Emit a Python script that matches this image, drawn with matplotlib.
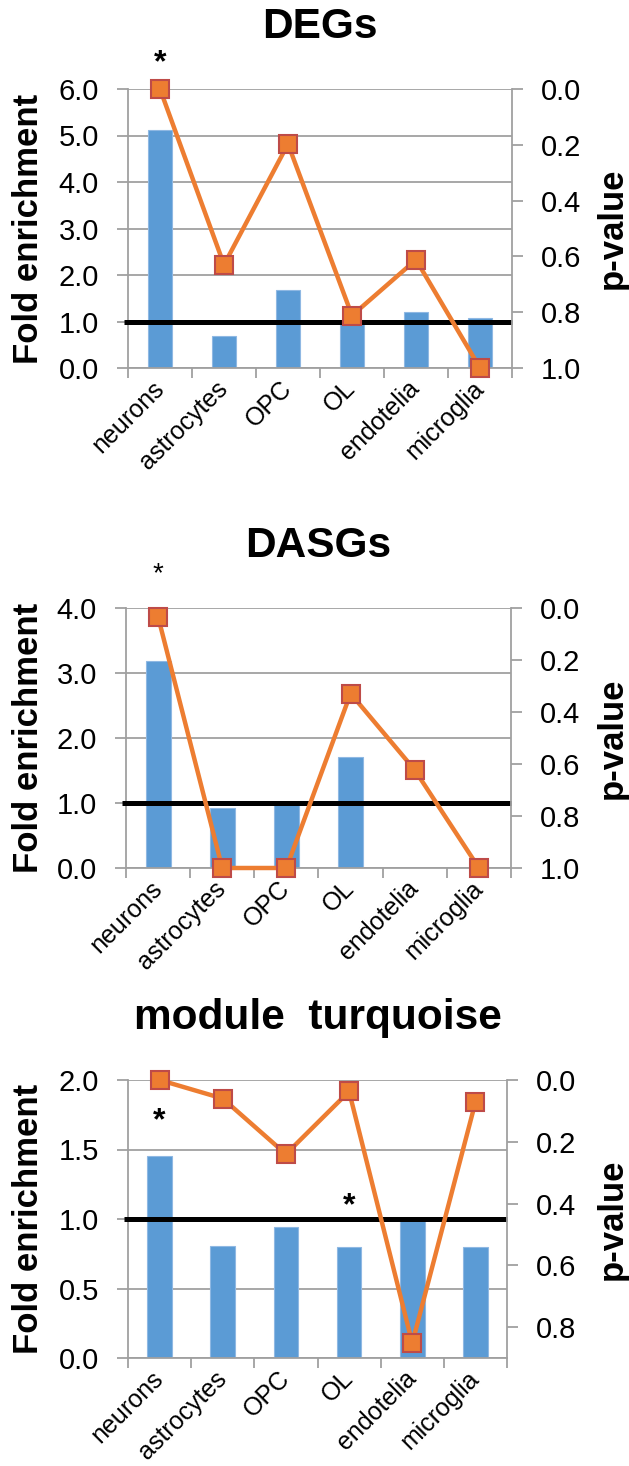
import numpy as np
import matplotlib
matplotlib.use("Agg")
import matplotlib.pyplot as plt
from matplotlib.ticker import FormatStrFormatter

plt.rcParams["font.family"] = ["Liberation Sans", "DejaVu Sans"]

# Data
cell_types = ["neurons", "astrocytes", "OPC", "OL", "endotelia", "microglia"]

deg_fold = [5.12, 0.68, 1.67, 1.03, 1.20, 1.08]
deg_p = [0.0, 0.63, 0.197, 0.812, 0.612, 1.0]

dasg_fold = [3.18, 0.93, 0.98, 1.71, 0.0, 0.0]
dasg_p = [0.034, 1.0, 1.0, 0.329, 0.623, 1.0]

turq_fold = [1.456, 0.807, 0.941, 0.80, 1.0, 0.80]
turq_p = [0.0, 0.060, 0.240, 0.037, 0.852, 0.072]

# star annotations: (category index, fold-enrichment height)
deg_stars = [(0, 6.55)]
dasg_stars = [(0, 4.52)]
turq_stars = [(0, 1.70), (3, 1.09)]

BLUE = "#5B9BD5"
ORANGE = "#ED7D31"
MARKER_EDGE = "#BE4B48"
GREY = "#A0A0A0"

W, H = 629, 1466
panels = [
    # title, fold, p, fold max, fold step, p max, stars, star bold, box (l, r, top, bottom) px
    ("DEGs", deg_fold, deg_p, 6.0, 1.0, 1.0, deg_stars, True, (128, 512, 89, 368)),
    ("DASGs", dasg_fold, dasg_p, 4.0, 1.0, 1.0, dasg_stars, False, (126, 511, 608, 868)),
    ("module  turquoise", turq_fold, turq_p, 2.0, 0.5, 0.9, turq_stars, True, (128, 507, 1080, 1358)),
]

fig = plt.figure(figsize=(W / 100, H / 100), dpi=100)

for title, fold, pval, fmax, fstep, pmax, stars, star_bold, box in panels:
    left, right, top, bottom = box
    ax = fig.add_axes([left / W, 1 - bottom / H, (right - left) / W, (bottom - top) / H])
    x = np.arange(len(cell_types))

    ax.bar(x, fold, width=0.39, color=BLUE, edgecolor="#8FB8E3", linewidth=0.8, zorder=2)
    ax.plot([-0.57, len(cell_types) - 0.5], [1, 1], color="black", linewidth=3.6,
            clip_on=False, zorder=3, solid_capstyle="butt")

    ax.set_xlim(-0.5, len(cell_types) - 0.5)
    ax.set_ylim(0, fmax)
    ax.set_yticks(np.arange(0, fmax + fstep / 2, fstep))
    ax.yaxis.set_major_formatter(FormatStrFormatter("%.1f"))
    ax.yaxis.grid(True, color=GREY, linewidth=1.3)
    ax.set_axisbelow(True)

    ax.set_xticks(np.arange(len(cell_types) + 1) - 0.5)
    ax.set_xticklabels([])
    ax.set_xticks(x, minor=True)
    ax.set_xticklabels(cell_types, minor=True, rotation=45, ha="right", va="center",
                       rotation_mode="anchor", fontsize=18)
    ax.tick_params(axis="x", which="major", direction="out", length=7, width=1.3, color=GREY)
    ax.tick_params(axis="x", which="minor", length=0, pad=12)
    ax.tick_params(axis="y", direction="out", length=8, width=1.3, color=GREY,
                   labelsize=21, pad=13)

    for side in ["top", "right"]:
        ax.spines[side].set_visible(False)
    for side in ["left", "bottom"]:
        ax.spines[side].set_color(GREY)
        ax.spines[side].set_linewidth(1.3)

    for idx, yv in stars:
        ax.text(idx, yv, "*", ha="center", va="center", fontsize=23 if star_bold else 20,
                fontweight="bold" if star_bold else "normal", clip_on=False)

    ax2 = ax.twinx()
    ax2.plot(x, pval, color=ORANGE, linewidth=3.2, marker="s", markersize=13,
             markerfacecolor=ORANGE, markeredgecolor=MARKER_EDGE, markeredgewidth=1.5,
             clip_on=False, zorder=4)
    ax2.set_ylim(pmax, 0)
    ax2.set_yticks(np.arange(0, pmax + 0.01, 0.2))
    ax2.yaxis.set_major_formatter(FormatStrFormatter("%.1f"))
    ax2.tick_params(axis="y", direction="out", length=8, width=1.3, color=GREY,
                    labelsize=21, pad=13)
    for side in ["top", "left", "bottom"]:
        ax2.spines[side].set_visible(False)
    ax2.spines["right"].set_color(GREY)
    ax2.spines["right"].set_linewidth(1.3)

    yc = 1 - (top + bottom) / 2 / H
    fig.text((left + right) / 2 / W, 1 - (top - 62) / H, title, ha="center", va="center",
             fontsize=30.5, fontweight="bold")
    fig.text(29 / W, yc, "Fold enrichment", rotation=90, ha="center", va="center",
             fontsize=25, fontweight="bold")
    fig.text(612 / W, yc, "p-value", rotation=90, ha="center", va="center",
             fontsize=25, fontweight="bold")

plt.savefig("out.png", dpi=100)
